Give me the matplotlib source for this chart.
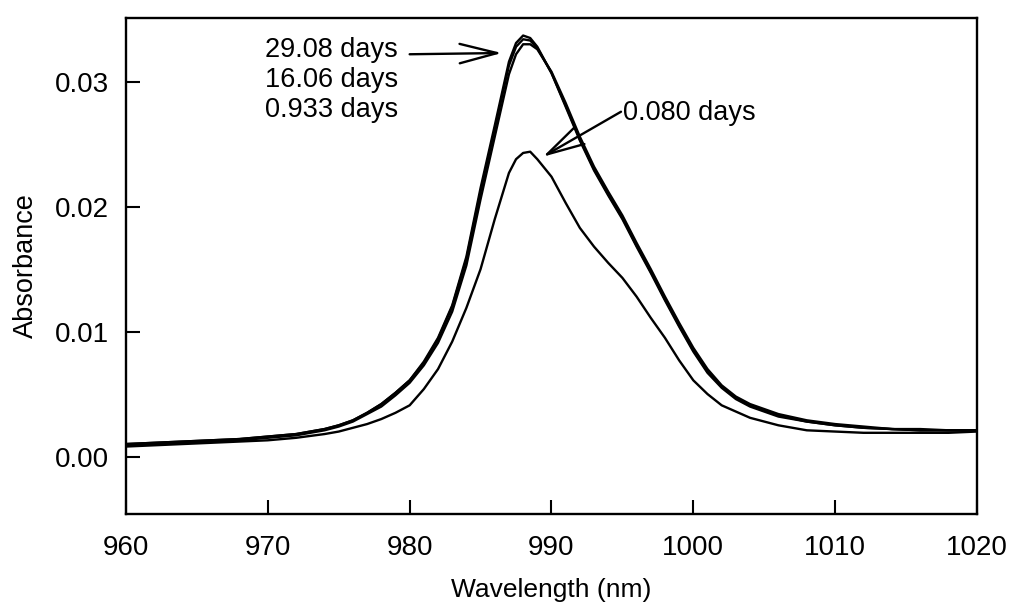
import numpy as np
import matplotlib.pyplot as plt

#plotting parameters
plt.rcParams['font.family'] = ['Liberation Sans', 'DejaVu Sans']

# wavelength grid (nm)
wavelength = [960, 962, 964, 966, 968, 970, 972, 974,
              975, 976, 977, 978, 979, 980, 981, 982, 983, 984, 985, 986, 987,
              987.5, 988, 988.5,
              989, 990, 991, 992, 993, 994, 995, 996, 997, 998, 999, 1000, 1001, 1002, 1003, 1004,
              1006, 1008, 1010, 1012, 1014, 1016, 1018, 1020]

# absorbance for each ageing time
abs_29_08 = [.0010, .0011, .0012, .0013, .0014, .0016, .0018, .0022,
             .0025, .0029, .0035, .0042, .0051, .0061, .0076, .0095, .0121, .0160, .0215, .0265, .0316,
             .0331, .0337, .0335,
             .0328, .0307, .0280, .0253, .0229, .0209, .0190, .0168, .0147, .0125, .0104, .0084, .0067, .0055, .0046, .0040,
             .0032, .0028, .0025, .0023, .0022, .0021, .0021, .0021]

abs_16_06 = [.0010, .0011, .0012, .0013, .0014, .0016, .0018, .0022,
             .0025, .0029, .0035, .0042, .0051, .0061, .0075, .0094, .0120, .0158, .0212, .0262, .0313,
             .0328, .0334, .0333,
             .0327, .0307, .0281, .0254, .0230, .0210, .0191, .0169, .0148, .0126, .0105, .0085, .0068, .0056, .0047, .0041,
             .0033, .0028, .0025, .0023, .0022, .0021, .0021, .0021]

abs_0_933 = [.0009, .0010, .0011, .0012, .0013, .0015, .0017, .0021,
             .0024, .0028, .0034, .0040, .0049, .0059, .0073, .0091, .0116, .0153, .0206, .0256, .0306,
             .0322, .0330, .0330,
             .0326, .0308, .0283, .0256, .0232, .0212, .0193, .0171, .0150, .0128, .0107, .0087, .0070, .0057, .0048, .0042,
             .0034, .0029, .0026, .0024, .0022, .0022, .0021, .0021]

abs_0_080 = [.0008, .0009, .0010, .0011, .0012, .0013, .0015, .0018,
             .0020, .0023, .0026, .0030, .0035, .0041, .0054, .0070, .0092, .0119, .0150, .0190, .0227,
             .0238, .0243, .0244,
             .0238, .0224, .0203, .0183, .0168, .0155, .0143, .0128, .0111, .0095, .0077, .0061, .0050, .0041, .0036, .0031,
             .0025, .0021, .0020, .0019, .0019, .0019, .0019, .0020]

series = [abs_29_08, abs_16_06, abs_0_933, abs_0_080]
xticks = [960, 970, 980, 990, 1000, 1010, 1020]
yticks = [0.00, 0.01, 0.02, 0.03]

fig = plt.figure(figsize=(10.12, 6.05), dpi=100)
ax = fig.add_axes([0.1245, 0.1504, 0.8409, 0.8198])

for s in series:
    ax.plot(wavelength, s, color='black', lw=1.7)

ax.set_xlim(960, 1020)
ax.set_ylim(-0.0046, 0.0351)
ax.set_xticks(xticks)
ax.set_yticks(yticks)
ax.set_yticklabels(['%.2f' % t for t in yticks])
ax.tick_params(axis='both', direction='in', length=10, width=1.5, labelsize=20)
ax.tick_params(axis='x', pad=15)
ax.tick_params(axis='y', pad=12)
for sp in ax.spines.values():
    sp.set_linewidth(1.7)

ax.set_xlabel('Wavelength (nm)', fontsize=19, labelpad=12)
ax.set_ylabel('Absorbance', fontsize=19.5, labelpad=12)

# labels and arrows
ax.text(969.8, 0.0320, '29.08 days', fontsize=19.5, va='baseline')
ax.text(969.8, 0.02959, '16.06 days', fontsize=19.5, va='baseline')
ax.text(969.8, 0.02719, '0.933 days', fontsize=19.5, va='baseline')
ax.text(995.05, 0.02694, '0.080 days', fontsize=19.5, va='baseline')

arrow = dict(arrowstyle='->,head_length=1.35,head_width=0.35', lw=1.7, color='black',
             shrinkA=0, shrinkB=0, mutation_scale=20)
ax.annotate('', xy=(986.5, 0.0323), xytext=(980.0, 0.0322), arrowprops=arrow)
ax.annotate('', xy=(989.4, 0.0240), xytext=(994.9, 0.0276), arrowprops=arrow)

fig.savefig('out.png', dpi=100)
